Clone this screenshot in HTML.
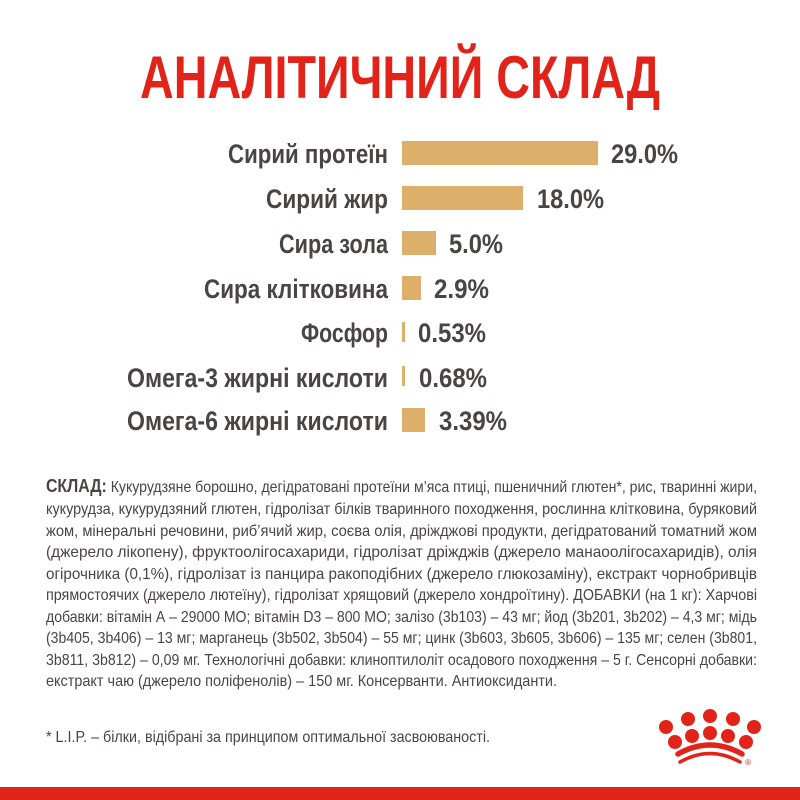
<!DOCTYPE html>
<html><head><meta charset="utf-8"><style>
html,body{margin:0;padding:0;background:#fff;}
svg{display:block;}
</style></head><body>
<svg width="800" height="800" viewBox="0 0 800 800" xmlns="http://www.w3.org/2000/svg" font-family="'Liberation Sans', sans-serif">
<rect width="800" height="800" fill="#fff"/>
<text x="140" y="98" font-size="60" font-weight="bold" fill="#e2231a" textLength="520" lengthAdjust="spacingAndGlyphs">АНАЛІТИЧНИЙ СКЛАД</text>
<g font-size="27" font-weight="bold" fill="#4a4442">
<text x="228" y="163" textLength="160" lengthAdjust="spacingAndGlyphs">Сирий протеїн</text>
<text x="266" y="208" textLength="122" lengthAdjust="spacingAndGlyphs">Сирий жир</text>
<text x="279" y="253" textLength="109" lengthAdjust="spacingAndGlyphs">Сира зола</text>
<text x="204" y="298" textLength="184" lengthAdjust="spacingAndGlyphs">Сира клітковина</text>
<text x="301" y="342" textLength="87" lengthAdjust="spacingAndGlyphs">Фосфор</text>
<text x="127" y="387" textLength="261" lengthAdjust="spacingAndGlyphs">Омега-3 жирні кислоти</text>
<text x="127" y="430" textLength="261" lengthAdjust="spacingAndGlyphs">Омега-6 жирні кислоти</text>
<text x="611" y="163" textLength="67" lengthAdjust="spacingAndGlyphs">29.0%</text>
<text x="537" y="208" textLength="67" lengthAdjust="spacingAndGlyphs">18.0%</text>
<text x="449" y="253" textLength="54" lengthAdjust="spacingAndGlyphs">5.0%</text>
<text x="434" y="298" textLength="55" lengthAdjust="spacingAndGlyphs">2.9%</text>
<text x="418" y="342" textLength="68" lengthAdjust="spacingAndGlyphs">0.53%</text>
<text x="419" y="387" textLength="68" lengthAdjust="spacingAndGlyphs">0.68%</text>
<text x="439" y="430" textLength="68" lengthAdjust="spacingAndGlyphs">3.39%</text>
</g>
<g fill="#dcb06a">
<rect x="402" y="141" width="196" height="24"/>
<rect x="402" y="186" width="121" height="24"/>
<rect x="402" y="231" width="34" height="24"/>
<rect x="402" y="276" width="19" height="24"/>
<rect x="402" y="322" width="3" height="20"/>
<rect x="402" y="366" width="3" height="20"/>
<rect x="402" y="408" width="23" height="24"/>
</g>
<g font-size="16" fill="#4a4442">
<text x="46" y="492" textLength="711" lengthAdjust="spacingAndGlyphs"><tspan font-weight="bold" font-size="18">СКЛАД:</tspan> Кукурудзяне борошно, дегідратовані протеїни м’яса птиці, пшеничний глютен*, рис, тваринні жири,</text>
<text x="46" y="514" textLength="711" lengthAdjust="spacingAndGlyphs">кукурудза, кукурудзяний глютен, гідролізат білків тваринного походження, рослинна клітковина, буряковий</text>
<text x="46" y="536" textLength="711" lengthAdjust="spacingAndGlyphs">жом, мінеральні речовини, риб’ячий жир, соєва олія, дріжджові продукти, дегідратований томатний жом</text>
<text x="46" y="557" textLength="711" lengthAdjust="spacingAndGlyphs">(джерело лікопену), фруктоолігосахариди, гідролізат дріжджів (джерело манаоолігосахаридів), олія</text>
<text x="46" y="579" textLength="711" lengthAdjust="spacingAndGlyphs">огірочника (0,1%), гідролізат із панцира ракоподібних (джерело глюкозаміну), екстракт чорнобривців</text>
<text x="46" y="600" textLength="711" lengthAdjust="spacingAndGlyphs">прямостоячих (джерело лютеїну), гідролізат хрящовий (джерело хондроїтину). ДОБАВКИ (на 1 кг): Харчові</text>
<text x="46" y="622" textLength="711" lengthAdjust="spacingAndGlyphs">добавки: вітамін А – 29000 МО; вітамін D3 – 800 МО; залізо (3b103) – 43 мг; йод (3b201, 3b202) – 4,3 мг; мідь</text>
<text x="46" y="643" textLength="711" lengthAdjust="spacingAndGlyphs">(3b405, 3b406) – 13 мг; марганець (3b502, 3b504) – 55 мг; цинк (3b603, 3b605, 3b606) – 135 мг; селен (3b801,</text>
<text x="46" y="665" textLength="711" lengthAdjust="spacingAndGlyphs">3b811, 3b812) – 0,09 мг. Технологічні добавки: клиноптилоліт осадового походження – 5 г. Сенсорні добавки:</text>
<text x="46" y="686" textLength="511" lengthAdjust="spacingAndGlyphs">екстракт чаю (джерело поліфенолів) – 150 мг. Консерванти. Антиоксиданти.</text>
<text x="46" y="742" textLength="444" lengthAdjust="spacingAndGlyphs">* L.I.P. – білки, відібрані за принципом оптимальної засвоюваності.</text>
</g>
<g fill="#e2231a">
<circle cx="666" cy="727" r="7"/><circle cx="688" cy="719" r="7"/><circle cx="710" cy="716" r="7"/><circle cx="733" cy="719" r="7"/><circle cx="754" cy="727" r="7"/>
<circle cx="675" cy="742" r="7"/><circle cx="692" cy="736" r="7"/><circle cx="710" cy="733" r="7"/><circle cx="728" cy="736" r="7"/><circle cx="746" cy="742" r="7"/>
<text x="745" y="765" font-size="8">®</text>
<rect x="0" y="787" width="800" height="13"/>
</g>
<g fill="none" stroke="#e2231a" stroke-linecap="round">
<path d="M678 754 Q710 736 742 754" stroke-width="5.5"/>
<path d="M680 762 Q710 745 740 762" stroke-width="3.5"/>
</g>
</svg>
</body></html>
